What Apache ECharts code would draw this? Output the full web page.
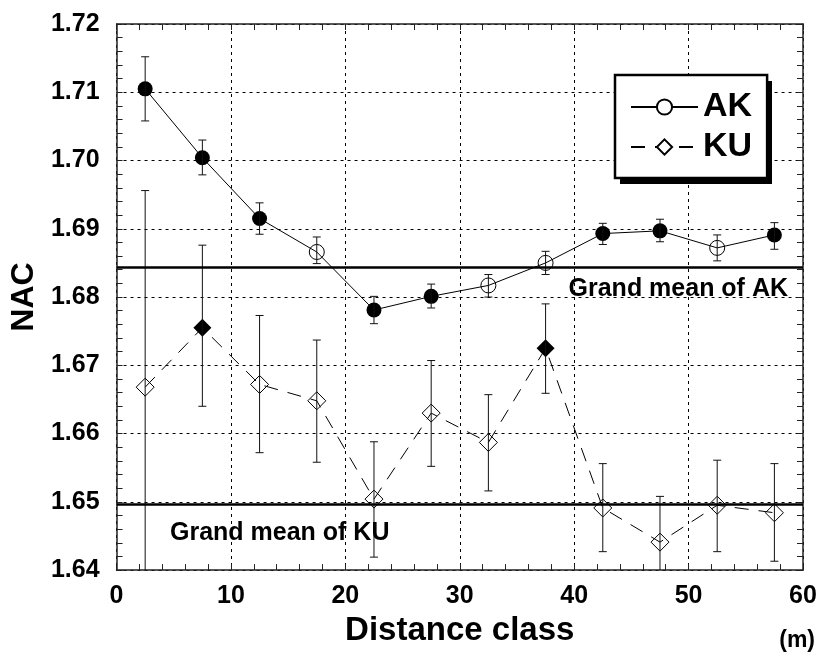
<!DOCTYPE html>
<html>
<head>
<meta charset="utf-8">
<script src="https://cdn.jsdelivr.net/npm/echarts@6/dist/echarts.min.js"></script>
<style>
  html, body { margin: 0; padding: 0; background: #fff; }
  #chart { width: 820px; height: 652px; }
</style>
</head>
<body>
<div id="chart"></div>
<script>
// distance classes (midpoints, m)
var distance = [2.5, 7.5, 12.5, 17.5, 22.5, 27.5, 32.5, 37.5, 42.5, 47.5, 52.5, 57.5];

// AK
var akMean = [1.7105, 1.7004, 1.6915, 1.6866, 1.6781, 1.6801, 1.6817, 1.6850, 1.6893, 1.6897, 1.6872, 1.6891];
var akLow  = [1.7058, 1.6979, 1.6892, 1.6849, 1.6761, 1.6784, 1.6800, 1.6833, 1.6877, 1.6881, 1.6853, 1.6870];
var akHigh = [1.7152, 1.7030, 1.6938, 1.6888, 1.6801, 1.6819, 1.6833, 1.6867, 1.6908, 1.6914, 1.6891, 1.6909];
var akFilled = [1, 1, 1, 0, 1, 1, 0, 0, 1, 1, 0, 1];

// KU
var kuMean = [1.6668, 1.6755, 1.6672, 1.6648, 1.6504, 1.6630, 1.6587, 1.6725, 1.6491, 1.6441, 1.6495, 1.6484];
var kuLow  = [1.6380, 1.6640, 1.6572, 1.6558, 1.6419, 1.6552, 1.6516, 1.6659, 1.6427, 1.6374, 1.6427, 1.6413];
var kuHigh = [1.6956, 1.6876, 1.6773, 1.6737, 1.6588, 1.6707, 1.6657, 1.6790, 1.6556, 1.6508, 1.6561, 1.6556];
var kuFilled = [0, 1, 0, 0, 0, 0, 0, 1, 0, 0, 0, 0];

var grandMeanAK = 1.6843;
var grandMeanKU = 1.6496;

var FONT = '"Liberation Sans", Arial, Helvetica, sans-serif';

function points(mean, filled, sym) {
  return mean.map(function (v, i) {
    if (filled[i]) {
      return { value: [distance[i], v], symbol: sym, itemStyle: { color: '#000' } };
    }
    return {
      value: [distance[i], v], symbol: sym,
      itemStyle: { color: 'rgba(0,0,0,0)', borderColor: '#000', borderWidth: 1 }
    };
  });
}

function bars(low, high) {
  return distance.map(function (x, i) { return [x, low[i], high[i]]; });
}

function renderErr(params, api) {
  var x = api.value(0);
  var lo = api.coord([x, api.value(1)]);
  var hi = api.coord([x, api.value(2)]);
  var w = 4;
  var st = { stroke: '#111', lineWidth: 1 };
  return {
    type: 'group',
    children: [
      { type: 'line', shape: { x1: lo[0], y1: lo[1], x2: hi[0], y2: hi[1] }, style: st },
      { type: 'line', shape: { x1: hi[0] - w, y1: hi[1], x2: hi[0] + w, y2: hi[1] }, style: st },
      { type: 'line', shape: { x1: lo[0] - w, y1: lo[1], x2: lo[0] + w, y2: lo[1] }, style: st }
    ]
  };
}

var chart = echarts.init(document.getElementById('chart'));

var tickStyle = { inside: true, length: 6, lineStyle: { color: '#222', width: 1 } };
var minorStyle = { show: true, splitNumber: 5, length: 6, lineStyle: { color: '#222', width: 1 } };
var lineAx = { show: true, onZero: false, lineStyle: { color: '#222', width: 1.5 } };

var option = {
  animation: false,
  backgroundColor: '#fff',
  grid: { left: 110, right: 17, top: 24, bottom: 73 },
  legend: {
    left: 615,
    top: 75,
    z: 20,
    orient: 'vertical',
    data: ['AK', 'KU'],
    itemWidth: 67,
    itemHeight: 19,
    itemGap: 4,
    padding: [14, 15, 13, 15],
    backgroundColor: '#fff',
    borderColor: '#000',
    borderWidth: 2.5,
    borderRadius: 0,
    textStyle: { fontFamily: FONT, fontWeight: 'bold', fontSize: 34, color: '#000', lineHeight: 36 }
  },
  xAxis: [
    {
      type: 'value', min: 0, max: 60, interval: 10,
      name: 'Distance class', nameLocation: 'middle', nameGap: 43,
      nameTextStyle: { fontFamily: FONT, fontWeight: 'bold', fontSize: 33, color: '#000' },
      axisLine: lineAx, axisTick: tickStyle, minorTick: minorStyle,
      axisLabel: { margin: 14, fontFamily: FONT, fontWeight: 'bold', fontSize: 25, color: '#000' },
      splitLine: { show: true, lineStyle: { color: '#000', width: 1, type: [3, 4] } }
    },
    {
      type: 'value', min: 0, max: 60, interval: 10, position: 'top',
      axisLine: lineAx, axisTick: tickStyle, minorTick: minorStyle,
      axisLabel: { show: false }, splitLine: { show: false }
    }
  ],
  yAxis: [
    {
      type: 'value', min: 1.64, max: 1.72, interval: 0.01,
      name: 'NAC', nameLocation: 'middle', nameGap: 69,
      nameTextStyle: { fontFamily: FONT, fontWeight: 'bold', fontSize: 32, color: '#000' },
      axisLine: lineAx, axisTick: tickStyle, minorTick: minorStyle,
      axisLabel: {
        margin: 17, fontFamily: FONT, fontWeight: 'bold', fontSize: 25, color: '#000',
        formatter: function (v) { return v.toFixed(2); }
      },
      splitLine: { show: true, lineStyle: { color: '#000', width: 1, type: [3, 4] } }
    },
    {
      type: 'value', min: 1.64, max: 1.72, interval: 0.01, position: 'right',
      axisLine: lineAx, axisTick: tickStyle, minorTick: minorStyle,
      axisLabel: { show: false }, splitLine: { show: false }
    }
  ],
  series: [
    {
      name: 'AK',
      type: 'line',
      symbol: 'emptyCircle',
      symbolSize: 15,
      z: 3,
      lineStyle: { color: '#000', width: 1, type: 'solid' },
      itemStyle: { color: '#000' },
      data: points(akMean, akFilled, 'circle'),
      markLine: {
        silent: true, symbol: 'none', animation: false, precision: 4,
        lineStyle: { color: '#000', width: 2.5, type: 'solid' },
        label: { show: false },
        data: [{ yAxis: grandMeanAK }]
      }
    },
    {
      name: 'KU',
      type: 'line',
      symbol: 'emptyDiamond',
      symbolSize: 18,
      z: 3,
      lineStyle: { color: '#000', width: 1, type: [14, 10] },
      itemStyle: { color: '#000' },
      data: points(kuMean, kuFilled, 'diamond'),
      markLine: {
        silent: true, symbol: 'none', animation: false, precision: 4,
        lineStyle: { color: '#000', width: 2.5, type: 'solid' },
        label: { show: false },
        data: [{ yAxis: grandMeanKU }]
      }
    },
    {
      name: 'AK error',
      type: 'custom',
      renderItem: renderErr,
      clip: true,
      z: 4,
      encode: { x: 0, y: [1, 2] },
      data: bars(akLow, akHigh)
    },
    {
      name: 'KU error',
      type: 'custom',
      renderItem: renderErr,
      clip: true,
      z: 4,
      encode: { x: 0, y: [1, 2] },
      data: bars(kuLow, kuHigh)
    }
  ],
  graphic: [
    {
      // legend drop shadow
      type: 'rect', z: 15,
      shape: { x: 620, y: 81, width: 152, height: 103 },
      style: { fill: '#000' }
    },
    {
      type: 'text', x: 788, y: 289, z: 10,
      style: { text: 'Grand mean of AK', fill: '#000', align: 'right', verticalAlign: 'middle',
               font: 'bold 25px ' + FONT }
    },
    {
      type: 'text', x: 170, y: 533, z: 10,
      style: { text: 'Grand mean of KU', fill: '#000', align: 'left', verticalAlign: 'middle',
               font: 'bold 25px ' + FONT }
    },
    {
      type: 'text', x: 815, y: 641, z: 10,
      style: { text: '(m)', fill: '#000', align: 'right', verticalAlign: 'middle',
               font: 'bold 23px ' + FONT }
    }
  ]
};

chart.setOption(option);
</script>
</body>
</html>
